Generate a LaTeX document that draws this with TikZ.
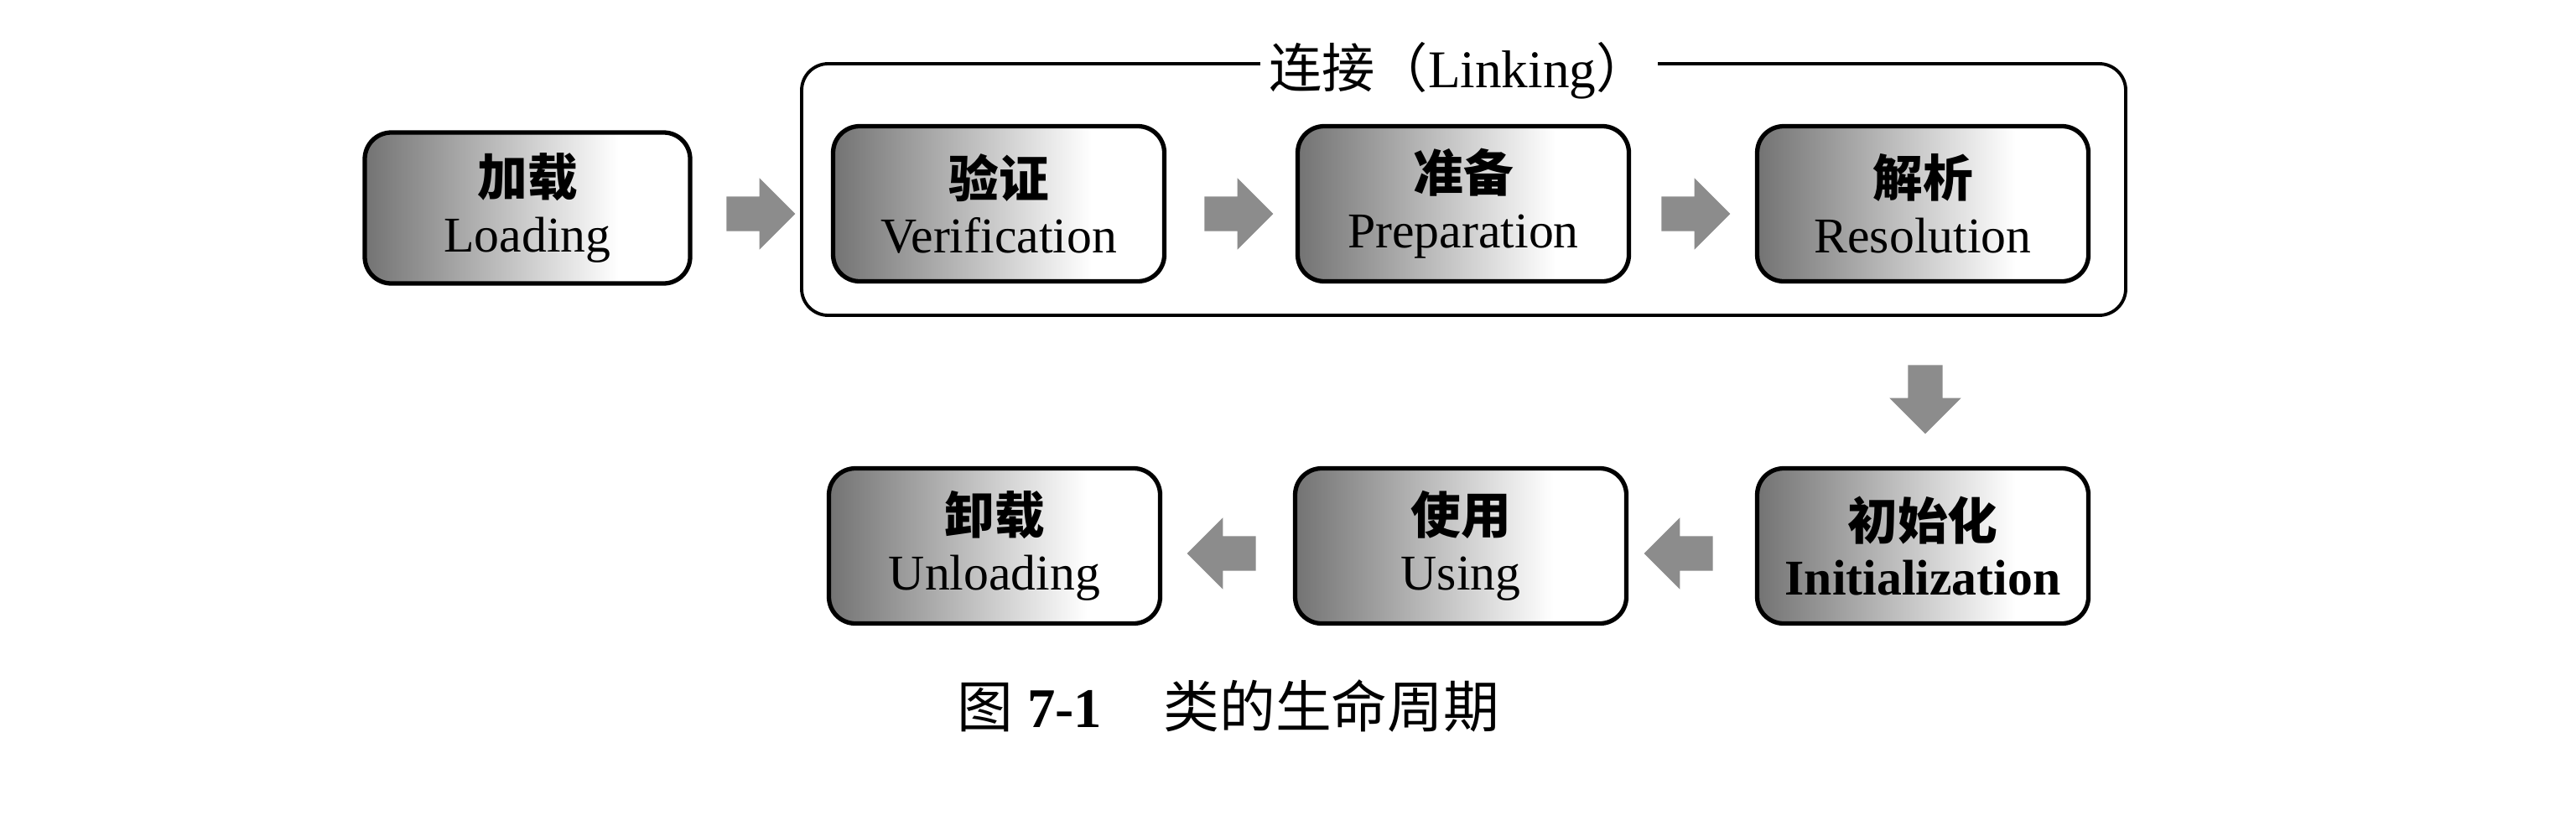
\documentclass[tikz,border=0pt]{standalone}
\usepackage{fontspec}
\setmainfont{Liberation Serif}
\newfontfamily\cjk{Noto Sans CJK SC}
\usetikzlibrary{shapes.arrows}
\pgfdeclarehorizontalshading{stageshade}{100bp}{color(0bp)=(black!55); color(25bp)=(black!55); color(64bp)=(white); color(100bp)=(white)}
\tikzset{
    stagebox/.style={draw, line width=1.5pt, rounded corners=9pt, shading=stageshade,
        minimum width=3.95cm, minimum height=1.85cm, align=center, inner sep=2pt,
        font=\fontsize{17}{19}\selectfont},
    blockarrow/.style={single arrow, draw=none, fill=black!45, minimum height=0.82cm,
        inner sep=0.2cm, single arrow head extend=0.22cm},
}
\begin{document}
\begin{tikzpicture}
    \useasboundingbox (0,0) rectangle (30.72,-9.84);
    % linking frame
    \draw[line width=1.1pt, rounded corners=9pt] (9.56,-0.76) rectangle (25.35,-3.76);
    \node[fill=white, inner sep=3pt, font=\fontsize{18}{21}\selectfont] (link) at (17.40,-0.84) {{\cjk 连接（}Linking{\cjk ）}};
    % stages
    \node[stagebox, minimum width=3.88cm, minimum height=1.8cm] (load) at (6.29,-2.48) {{\cjk\bfseries 加载}\\Loading};
    \node[stagebox] (verify) at (11.91,-2.43) {{\cjk\bfseries 验证}\\Verification};
    \node[stagebox] (prepare) at (17.45,-2.43) {{\cjk\bfseries 准备}\\Preparation};
    \node[stagebox] (resolve) at (22.93,-2.43) {{\cjk\bfseries 解析}\\Resolution};
    \node[stagebox] (init) at (22.93,-6.51) {{\cjk\bfseries 初始化}\\\textbf{Initialization}};
    \node[stagebox] (use) at (17.42,-6.51) {{\cjk\bfseries 使用}\\Using};
    \node[stagebox] (unload) at (11.86,-6.51) {{\cjk\bfseries 卸载}\\Unloading};
    % block arrows
    \node[blockarrow] (a1) at (8.97,-2.55) {};
    \node[blockarrow] (a2) at (14.67,-2.55) {};
    \node[blockarrow] (a3) at (20.12,-2.55) {};
    \node[blockarrow, shape border rotate=270] (a4) at (22.96,-4.66) {};
    \node[blockarrow, shape border rotate=180] (a5) at (20.12,-6.60) {};
    \node[blockarrow, shape border rotate=180] (a6) at (14.67,-6.60) {};
    % caption
    \node[font=\fontsize{19}{22}\selectfont] (caption) at (14.65,-8.42) {{\cjk 图} \textbf{7-1}\hspace{1.1em}{\cjk 类的生命周期}};
\end{tikzpicture}
\end{document}
